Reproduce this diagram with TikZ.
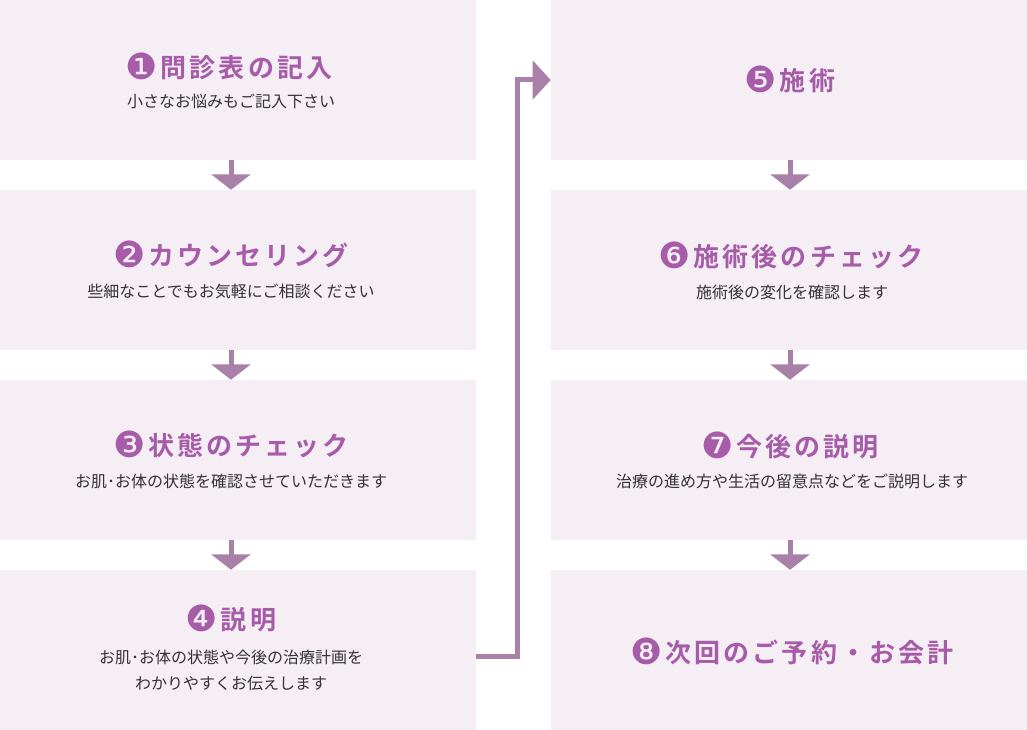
\documentclass[tikz,border=0pt]{standalone}
\usepackage{fontspec}
\usetikzlibrary{arrows.meta, positioning}
\newfontfamily\jpfont{Noto Sans CJK JP}
\newfontfamily\jpbold[LetterSpace=12]{Noto Sans CJK JP Bold}
\newfontfamily\numfont{DejaVu Sans}
\definecolor{boxfill}{HTML}{F5EEF5}
\definecolor{accent}{HTML}{A65CA8}
\definecolor{arrowc}{HTML}{A880A8}
\definecolor{bodytext}{HTML}{333333}
\newcommand{\cnum}[1]{\raisebox{-1.5pt}{\numfont\fontsize{27}{24}\selectfont #1}\hspace{2pt}}

\begin{document}
\begin{tikzpicture}[x=0.75pt, y=-0.75pt,
    panel/.style={fill=boxfill, minimum width=357pt, minimum height=120pt, inner sep=0pt},
    ttl/.style={font=\jpbold\fontsize{19.5}{24}\selectfont, text=accent, inner sep=0pt},
    sub/.style={font=\jpfont\fontsize{12}{19.5}\selectfont, text=bodytext, inner sep=0pt, align=center},
    flow/.style={draw=arrowc, line width=3.75pt, -{Triangle[width=29pt, length=11.5pt]}}]
    \useasboundingbox (0,0) rectangle (1027,730);

    % Panels
    \node[panel] (b1) at (238,80) {};
    \node[panel] (b2) at (238,270) {};
    \node[panel] (b3) at (238,460) {};
    \node[panel] (b4) at (238,650) {};
    \node[panel] (b5) at (789,80) {};
    \node[panel] (b6) at (789,270) {};
    \node[panel] (b7) at (789,460) {};
    \node[panel] (b8) at (789,650) {};

    % Column axes
    \coordinate (lx) at (231,0);
    \coordinate (rx) at (790,0);
    \coordinate (bend) at (517.5,0);

    % Left column texts
    \node[ttl] (t1) at (229,66) {\cnum{❶}問診表の記入};
    \node[sub] (s1) at (231,101) {小さなお悩みもご記入下さい};
    \node[ttl] (t2) at (231,254) {\cnum{❷}カウンセリング};
    \node[sub] (s2) at (231,291) {些細なことでもお気軽にご相談ください};
    \node[ttl] (t3) at (231,444) {\cnum{❸}状態のチェック};
    \node[sub] (s3) at (231,481) {お肌･お体の状態を確認させていただきます};
    \node[ttl] (t4) at (231,618) {\cnum{❹}説明};
    \node[sub] (s4) at (231,670) {お肌･お体の状態や今後の治療計画を\\わかりやすくお伝えします};

    % Right column texts
    \node[ttl] (t5) at (790,79) {\cnum{❺}施術};
    \node[ttl] (t6) at (791,255) {\cnum{❻}施術後のチェック};
    \node[sub] (s6) at (792,292) {施術後の変化を確認します};
    \node[ttl] (t7) at (790,445) {\cnum{❼}今後の説明};
    \node[sub] (s7) at (792,481) {治療の進め方や生活の留意点などをご説明します};
    \node[ttl] (t8) at (792,651) {\cnum{❽}次回のご予約・お会計};

    % Arrows
    \draw[flow] (lx |- b1.south) -- (lx |- b2.north);
    \draw[flow] (lx |- b2.south) -- (lx |- b3.north);
    \draw[flow] (lx |- b3.south) -- (lx |- b4.north);
    \draw[flow] (rx |- b5.south) -- (rx |- b6.north);
    \draw[flow] (rx |- b6.south) -- (rx |- b7.north);
    \draw[flow] (rx |- b7.south) -- (rx |- b8.north);
    \draw[flow, -{Triangle[width=28.5pt, length=13.5pt]}] (b4.east |- 0,656) -- (bend |- 0,656) |- (b5.west);
\end{tikzpicture}
\end{document}
